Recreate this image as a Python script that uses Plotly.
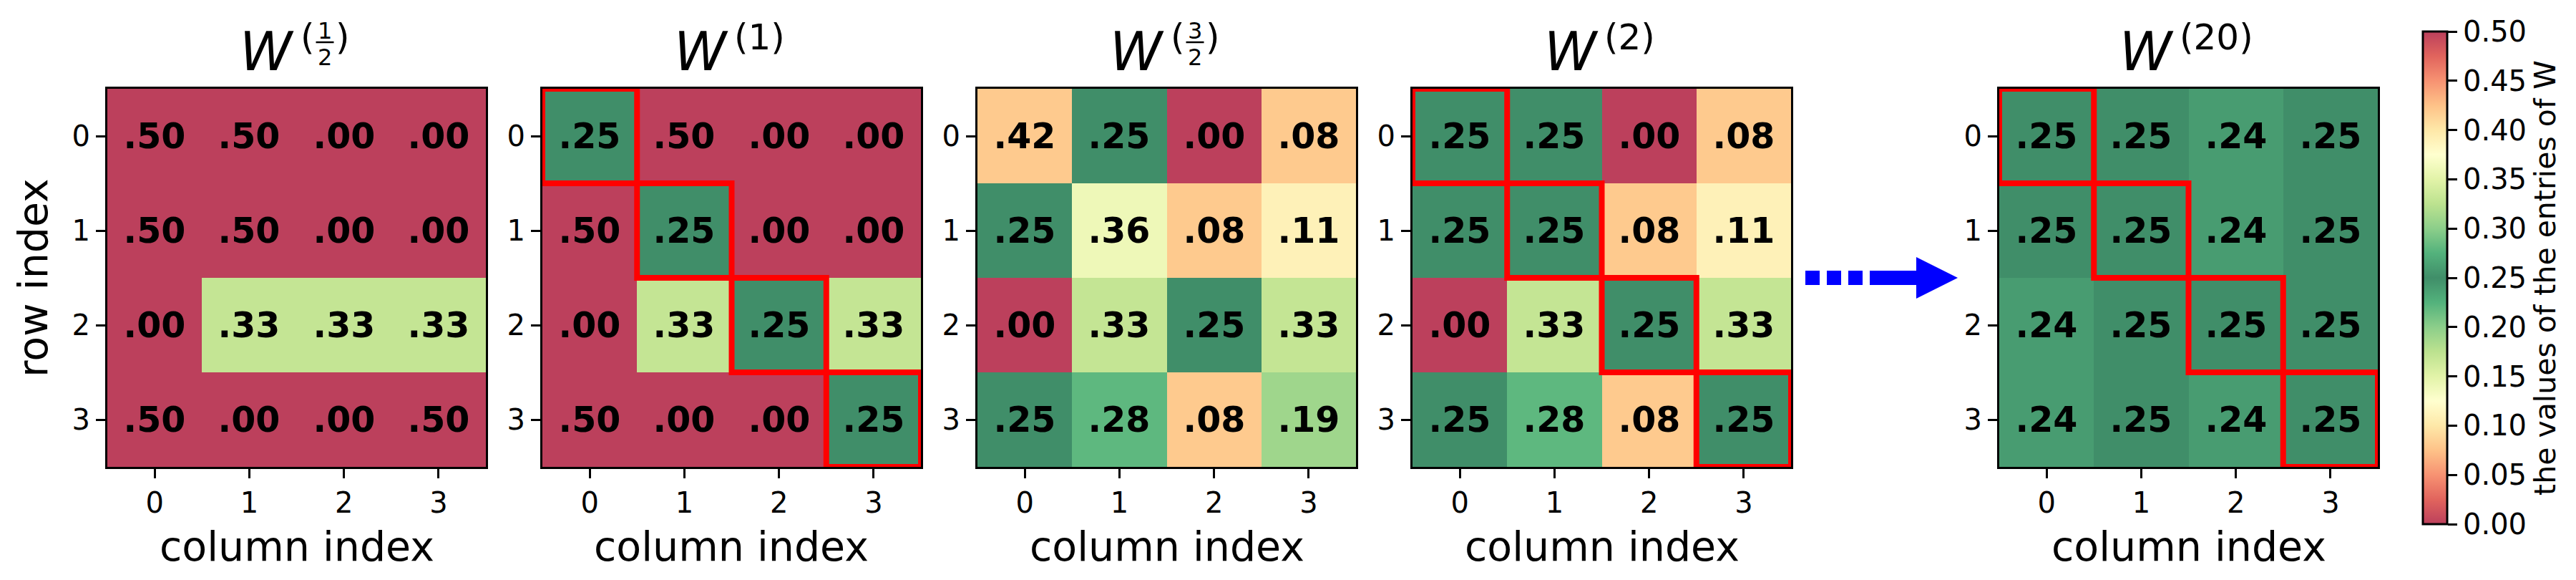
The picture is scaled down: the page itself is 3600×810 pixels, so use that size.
import plotly.graph_objects as go

# ---------------- data ----------------
rows = [0, 1, 2, 3]
cols = [0, 1, 2, 3]
tick_labels = ["0", "1", "2", "3"]

W_half = [[0.50, 0.50, 0.00, 0.00],
          [0.50, 0.50, 0.00, 0.00],
          [0.00, 0.33, 0.33, 0.33],
          [0.50, 0.00, 0.00, 0.50]]
W_1 = [[0.25, 0.50, 0.00, 0.00],
       [0.50, 0.25, 0.00, 0.00],
       [0.00, 0.33, 0.25, 0.33],
       [0.50, 0.00, 0.00, 0.25]]
W_3half = [[0.42, 0.25, 0.00, 0.08],
           [0.25, 0.36, 0.08, 0.11],
           [0.00, 0.33, 0.25, 0.33],
           [0.25, 0.28, 0.08, 0.19]]
W_2 = [[0.25, 0.25, 0.00, 0.08],
       [0.25, 0.25, 0.08, 0.11],
       [0.00, 0.33, 0.25, 0.33],
       [0.25, 0.28, 0.08, 0.25]]
W_20 = [[0.25, 0.25, 0.24, 0.25],
        [0.25, 0.25, 0.24, 0.25],
        [0.24, 0.25, 0.25, 0.25],
        [0.24, 0.25, 0.24, 0.25]]

matrices = [W_half, W_1, W_3half, W_2, W_20]
# superscripts: (numerator, denominator) for fractions, or string for integers
superscripts = [("1", "2"), "1", ("3", "2"), "2", "20"]
highlight_diag = [False, True, False, True, True]

colorbar_title = "the values of the entries of W"
cbar_ticks = [0.00, 0.05, 0.10, 0.15, 0.20, 0.25, 0.30, 0.35, 0.40, 0.45, 0.50]

# ---------------- styling / layout helpers ----------------
W_PX, H_PX = 3600, 810
FONT = "DejaVu Sans"

def px_x(x):
    return x / W_PX

def px_y(y):
    return 1 - y / H_PX

panel_px = [(142, 671), (750, 1279), (1358, 1887), (1966, 2495), (2786, 3315)]
top_px, bot_px = 116, 644

# RdYlGn (11 colorbrewer stops), alpha 0.75 over white, mirrored about 0.25
rdylgn = ['#a50026', '#d73027', '#f46d43', '#fdae61', '#fee08b', '#ffffbf',
          '#d9ef8b', '#a6d96a', '#66bd63', '#1a9850', '#006837']

def blend(hx, a=0.75):
    r, g, b = int(hx[1:3], 16), int(hx[3:5], 16), int(hx[5:7], 16)
    f = lambda c: round(c * a + 255 * (1 - a))
    return f"rgb({f(r)},{f(g)},{f(b)})"

colorscale = []
for k in range(11):
    colorscale.append([k * 0.05, blend(rdylgn[k])])
for k in range(1, 11):
    colorscale.append([0.5 + k * 0.05, blend(rdylgn[10 - k])])

def fmt(v):
    s = f"{v:.2f}"
    return s[1:] if s.startswith("0") else s

fig = go.Figure()
shapes = []
annotations = []

for i, M in enumerate(matrices):
    n = i + 1
    xa = "x" if n == 1 else f"x{n}"
    ya = "y" if n == 1 else f"y{n}"
    fig.add_trace(go.Heatmap(
        z=M, x=cols, y=rows,
        text=[[fmt(v) for v in r] for r in M],
        texttemplate="%{text}",
        textfont=dict(family=FONT, size=49, color="black", weight="bold"),
        coloraxis="coloraxis",
        xaxis=xa, yaxis=ya,
        hoverinfo="skip",
    ))
    x0, x1 = panel_px[i]
    axis_common = dict(
        ticks="outside", ticklen=13, tickwidth=3, tickcolor="black",
        showline=True, mirror=True, linewidth=3, linecolor="black",
        showgrid=False, zeroline=False,
        tickfont=dict(family=FONT, size=40, color="black"),
        tickvals=cols, ticktext=tick_labels,
    )
    fig.update_layout(**{
        ("xaxis" if n == 1 else f"xaxis{n}"): dict(
            domain=[px_x(x0), px_x(x1)], anchor=ya, range=[-0.5, 3.5], **axis_common),
        ("yaxis" if n == 1 else f"yaxis{n}"): dict(
            domain=[px_y(bot_px), px_y(top_px)], anchor=xa, range=[3.5, -0.5], **axis_common),
    })

    # red outlines of the diagonal cells
    if highlight_diag[i]:
        for d in range(len(rows)):
            shapes.append(dict(type="rect", xref=xa, yref=ya,
                               x0=cols[d] - 0.5, x1=cols[d] + 0.5,
                               y0=rows[d] - 0.5, y1=rows[d] + 0.5,
                               line=dict(color="red", width=8), layer="above"))

    # column index label
    c = (x0 + x1) / 2
    annotations.append(dict(text="column index", x=px_x(c), y=px_y(755),
                            xref="paper", yref="paper", showarrow=False,
                            xanchor="center", yanchor="middle",
                            font=dict(family=FONT, size=57, color="black")))

    # title  W^(...)
    sup = superscripts[i]
    if isinstance(sup, tuple):
        annotations.append(dict(text="<i>W</i>", x=px_x(c - 2), y=px_y(64),
                                xref="paper", yref="paper", showarrow=False,
                                xanchor="right", yanchor="middle",
                                font=dict(family=FONT, size=74, color="black")))
        annotations.append(dict(text="(", x=px_x(c + 15.5), y=px_y(44),
                                xref="paper", yref="paper", showarrow=False,
                                xanchor="center", yanchor="middle",
                                font=dict(family=FONT, size=50, color="black")))
        annotations.append(dict(text=")", x=px_x(c + 64.5), y=px_y(44),
                                xref="paper", yref="paper", showarrow=False,
                                xanchor="center", yanchor="middle",
                                font=dict(family=FONT, size=50, color="black")))
        annotations.append(dict(text=sup[0], x=px_x(c + 39.5), y=px_y(35),
                                xref="paper", yref="paper", showarrow=False,
                                xanchor="center", yanchor="middle",
                                font=dict(family=FONT, size=32, color="black")))
        annotations.append(dict(text=sup[1], x=px_x(c + 39.5), y=px_y(72),
                                xref="paper", yref="paper", showarrow=False,
                                xanchor="center", yanchor="middle",
                                font=dict(family=FONT, size=32, color="black")))
        shapes.append(dict(type="line", xref="paper", yref="paper",
                           x0=px_x(c + 27), x1=px_x(c + 52),
                           y0=px_y(51), y1=px_y(51),
                           line=dict(color="black", width=2.5)))
    else:
        supw = 0.39 * 50 * 2 + 0.636 * 50 * len(sup)
        total = 67 + 7 + supw
        wl = c - total / 2
        annotations.append(dict(text="<i>W</i>", x=px_x(wl + 67 + 3), y=px_y(64),
                                xref="paper", yref="paper", showarrow=False,
                                xanchor="right", yanchor="middle",
                                font=dict(family=FONT, size=74, color="black")))
        annotations.append(dict(text=f"({sup})", x=px_x(wl + 74), y=px_y(44),
                                xref="paper", yref="paper", showarrow=False,
                                xanchor="left", yanchor="middle",
                                font=dict(family=FONT, size=50, color="black")))

# row index label
annotations.append(dict(text="row index", x=px_x(38), y=px_y((top_px + bot_px) / 2),
                        xref="paper", yref="paper", showarrow=False, textangle=-90,
                        xanchor="center", yanchor="middle",
                        font=dict(family=FONT, size=57, color="black")))

# blue dashed arrow between W^(2) and W^(20)
ay = 380
for (a, b) in [(2515, 2535), (2545, 2565), (2575, 2595), (2605, 2672)]:
    shapes.append(dict(type="rect", xref="paper", yref="paper",
                       x0=px_x(a), x1=px_x(b), y0=px_y(ay + 10), y1=px_y(ay - 10),
                       fillcolor="blue", line=dict(width=0)))
shapes.append(dict(type="path", xref="paper", yref="paper",
                   path=f"M {px_x(2670)} {px_y(ay - 29)} L {px_x(2728)} {px_y(ay)} "
                        f"L {px_x(2670)} {px_y(ay + 29)} Z",
                   fillcolor="blue", line=dict(width=0)))

fig.update_layout(
    width=W_PX, height=H_PX, autosize=False,
    margin=dict(l=0, r=0, t=0, b=0, pad=0),
    paper_bgcolor="white", plot_bgcolor="white",
    font=dict(family=FONT, color="black"),
    shapes=shapes, annotations=annotations, showlegend=False,
    coloraxis=dict(
        colorscale=colorscale, cmin=0.0, cmax=0.5,
        colorbar=dict(
            x=px_x(3378), xanchor="left", xpad=0,
            y=px_y(380), yanchor="middle", ypad=0,
            thickness=34, thicknessmode="pixels",
            len=688, lenmode="pixels",
            outlinewidth=3, outlinecolor="black",
            ticks="outside", ticklen=13, tickwidth=3, tickcolor="black",
            tickvals=cbar_ticks, ticktext=[f"{v:.2f}" for v in cbar_ticks],
            tickfont=dict(family=FONT, size=40, color="black"),
            title=dict(text=colorbar_title, side="right",
                       font=dict(family=FONT, size=41, color="black")),
        ),
    ),
)

fig.write_html("out.html")
